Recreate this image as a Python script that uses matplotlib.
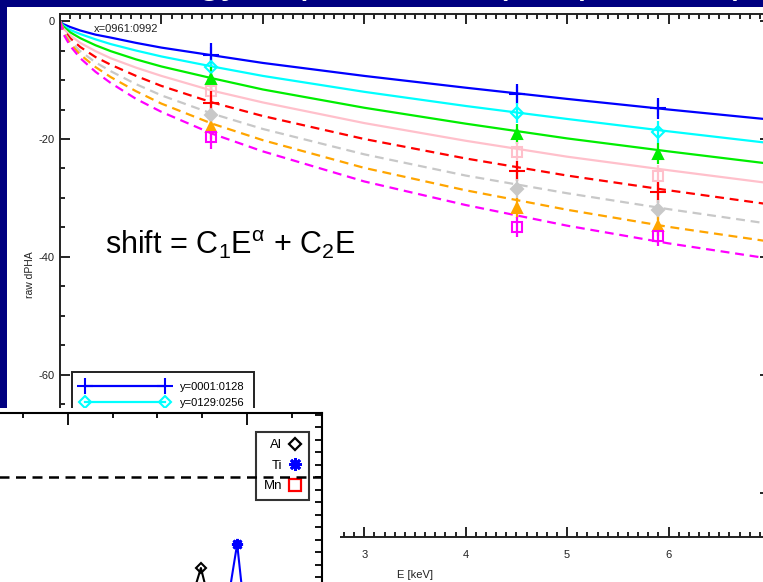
import matplotlib
matplotlib.use('Agg')
import matplotlib.pyplot as plt
from matplotlib.patches import Rectangle
from matplotlib.lines import Line2D
from matplotlib.ticker import MultipleLocator

W, H = 763, 582
plt.rcParams['font.family'] = ['Liberation Sans', 'DejaVu Sans']
plt.rcParams['axes.unicode_minus'] = False
plt.rcParams['mathtext.fontset'] = 'custom'
plt.rcParams['mathtext.rm'] = 'Liberation Sans'
plt.rcParams['mathtext.it'] = 'Liberation Sans:italic'

# line energies of the calibration points (keV) and their error bars
energies = [1.49, 4.51, 5.90]
errors = [2.0, 1.7, 1.8]

# measured raw dPHA at the three lines
pts_y0001 = [-5.8, -12.4, -14.8]
pts_y0129 = [-7.8, -15.6, -18.8]
pts_y0257 = [-9.8, -19.2, -22.5]
pts_y0385 = [-11.9, -22.2, -26.2]
pts_y0513 = [-13.9, -25.4, -29.0]
pts_y0641 = [-15.9, -28.5, -32.0]
pts_y0769 = [-18.0, -31.7, -34.7]
pts_y0897 = [-19.7, -34.9, -36.4]

# fitted curves
fit_e = [0, 0.03, 0.1, 0.2, 0.35, 0.5, 0.75, 1, 1.5, 2, 3, 4, 5, 6, 7]
fit_y0001 = [0, -0.5, -1.0, -1.6, -2.3, -2.8, -3.7, -4.5, -5.8, -7.1, -9.3, -11.3, -13.2, -15.0, -16.7]
fit_y0129 = [0, -0.7, -1.5, -2.2, -3.1, -3.9, -5.0, -6.0, -7.7, -9.3, -12.0, -14.4, -16.6, -18.7, -20.7]
fit_y0257 = [0, -0.9, -1.9, -2.9, -4.1, -5.1, -6.5, -7.7, -9.7, -11.6, -14.7, -17.4, -19.9, -22.1, -24.2]
fit_y0385 = [0, -1.2, -2.4, -3.7, -5.1, -6.3, -7.9, -9.3, -11.8, -13.8, -17.3, -20.3, -23.0, -25.3, -27.5]
fit_y0513 = [0, -1.4, -2.9, -4.4, -6.1, -7.4, -9.3, -11.0, -13.8, -16.1, -20.0, -23.3, -26.2, -28.7, -31.1]
fit_y0641 = [0, -1.7, -3.4, -5.1, -7.0, -8.5, -10.7, -12.6, -15.7, -18.3, -22.6, -26.2, -29.2, -31.9, -34.4]
fit_y0769 = [0, -1.9, -3.8, -5.7, -7.8, -9.5, -11.9, -14.0, -17.4, -20.2, -24.9, -28.7, -32.0, -34.9, -37.4]
fit_y0897 = [0, -2.1, -4.2, -6.3, -8.6, -10.5, -13.2, -15.4, -19.1, -22.1, -27.2, -31.2, -34.7, -37.7, -40.3]

labels = ['y=0001:0128', 'y=0129:0256', 'y=0257:0384', 'y=0385:0512',
          'y=0513:0640', 'y=0641:0768', 'y=0769:0896', 'y=0897:1024']
points = [pts_y0001, pts_y0129, pts_y0257, pts_y0385,
          pts_y0513, pts_y0641, pts_y0769, pts_y0897]
fits = [fit_y0001, fit_y0129, fit_y0257, fit_y0385,
        fit_y0513, fit_y0641, fit_y0769, fit_y0897]
colors = ['#0000ff', '#00ffff', '#00ee00', '#ffc0cb',
          '#ff0000', '#c8c8c8', '#ffa500', '#ff00ff']
markers = ['+', 'D', '^', 's', '+', 'D', '^', 's']
filled = [True, False, True, False, True, True, True, False]
dashed = [False] * 4 + [True] * 4

# inset (second plot, partly hidden)
al_x = [6.57, 6.97, 7.30]
al_y = [0, 4.72, 0]
ti_x = [7.48, 7.78, 7.98]
ti_y = [0, 6.64, 0]
ref_level = 12


def fx(px):
    return px / W


def fy(py):
    return 1 - py / H


fig = plt.figure(figsize=(W / 100, H / 100), dpi=100)
fig.patch.set_facecolor('#000080')
fig.add_artist(Rectangle((fx(7), 0), 1, fy(7), transform=fig.transFigure,
                         facecolor='white', edgecolor='none', zorder=-1))
# slide title, almost entirely cut off above the picture
fig.text(fx(110), fy(-8), 'Energy dependence (temperature)', color='white',
         fontsize=30, va='baseline', ha='left', zorder=-0.5)

# ---- main plot ----
ax = fig.add_axes([fx(60), fy(537), 710 / W, 523 / H], zorder=0)
handles = []
for lab, pts, fit, c, m, f, d in zip(labels, points, fits, colors, markers, filled, dashed):
    ls = (0, (4, 2.6)) if d else '-'
    ax.plot(fit_e, fit, color=c, lw=1.6, linestyle=ls)
    ms = 11 if m == '+' else 6.5
    ax.errorbar(energies, pts, yerr=errors, fmt=m, color=c, ms=ms, mew=1.5,
                mfc=c if f else 'none', elinewidth=1.6, capsize=0)
    handles.append(Line2D([], [], color=c, lw=1.6, linestyle=ls, marker=m, ms=ms,
                          mew=1.5, mfc=c if f else 'none', label=lab))

ax.set_xlim(0, 7)
ax.set_ylim(-87.5, 1.2)
ax.xaxis.set_major_locator(MultipleLocator(1))
ax.xaxis.set_minor_locator(MultipleLocator(0.1))
ax.yaxis.set_major_locator(MultipleLocator(20))
ax.yaxis.set_minor_locator(MultipleLocator(5))
ax.xaxis.set_major_formatter(lambda v, pos: '' if v > 6.5 else '%d' % v)
ax.tick_params(which='both', direction='in', top=True, right=True,
               labelsize=8, labelcolor='#222222', width=1.2)
ax.tick_params(which='major', length=7.2)
ax.tick_params(which='minor', length=3.8)
ax.tick_params(axis='x', pad=9)
ax.tick_params(axis='y', pad=4)
for sp in ax.spines.values():
    sp.set_linewidth(1.4)
    sp.set_color('#222222')

ax.text(0.33, -1.4, 'x=0961:0992', fontsize=8, color='#222222', va='center')
fig.text(fx(105), fy(245), r'shift = C$_1$E$^{\mathrm{\alpha}}$ + C$_2$E',
         fontsize=22, va='center', ha='left', color='black')
fig.text(fx(30), fy(275), 'raw dPHA', rotation=90, fontsize=7.5,
         color='#222222', ha='center', va='center')
fig.text(fx(415), fy(575), 'E [keV]', fontsize=8, color='#222222',
         ha='center', va='center')

leg = ax.legend(handles=handles, loc='upper left', numpoints=2, fontsize=8,
                bbox_to_anchor=(fx(72), fy(372)), bbox_transform=fig.transFigure,
                handlelength=7.8, handletextpad=1.0, labelspacing=0.5,
                borderpad=0.9, borderaxespad=0, fancybox=False, framealpha=1)
leg.get_frame().set_edgecolor('#222222')
leg.get_frame().set_linewidth(1.4)

# ---- inset (second plot) ----
fig.add_artist(Rectangle((0, 0), fx(340), fy(408), transform=fig.transFigure,
                         facecolor='white', edgecolor='none', zorder=1))
ax2 = fig.add_axes([fx(-111), fy(627), 433 / W, 214 / H], zorder=2)
ax2.set_xlim(0, 433 / 44.75)
ax2.set_ylim(0, 214 / 12.5)
ax2.axhline(ref_level, color='black', lw=1.8, linestyle=(0, (4, 2.6)), zorder=6)
ax2.plot(al_x, al_y, color='black', lw=1.5, marker='D', ms=5, mew=1.5,
         mfc='none', markevery=[1])
ax2.plot(ti_x, ti_y, color='#0000ff', lw=1.5, marker=(8, 2, 0), ms=8, mew=2,
         markevery=[1])
ax2.xaxis.set_major_locator(MultipleLocator(4))
ax2.xaxis.set_minor_locator(MultipleLocator(1))
ax2.yaxis.set_major_locator(MultipleLocator(1))
ax2.tick_params(which='both', direction='in', top=True, right=True,
                labelbottom=False, labelleft=False, width=1.3)
ax2.tick_params(axis='x', which='major', length=8.5)
ax2.tick_params(axis='x', which='minor', length=3.8)
ax2.tick_params(axis='y', which='major', length=5)
for sp in ax2.spines.values():
    sp.set_linewidth(1.5)

h2 = [Line2D([], [], color='black', ls='none', marker='D', ms=6, mew=1.6, mfc='none', label='Al'),
      Line2D([], [], color='#0000ff', ls='none', marker=(8, 2, 0), ms=9, mew=2, label='Ti'),
      Line2D([], [], color='#ff0000', ls='none', marker='s', ms=8, mew=1.6, mfc='none', label='Mn')]
leg2 = ax2.legend(handles=h2, loc='upper right', fontsize=9.5, markerfirst=False,
                  bbox_to_anchor=(fx(309), fy(432)), bbox_transform=fig.transFigure,
                  handlelength=1.0, handletextpad=0.5, labelspacing=0.62,
                  borderpad=0.55, borderaxespad=0, fancybox=False, facecolor='none')
leg2.get_frame().set_edgecolor('black')
leg2.get_frame().set_linewidth(1.5)
leg2.set_zorder(5)

fig.savefig('out.png', dpi=100, facecolor=fig.get_facecolor())
